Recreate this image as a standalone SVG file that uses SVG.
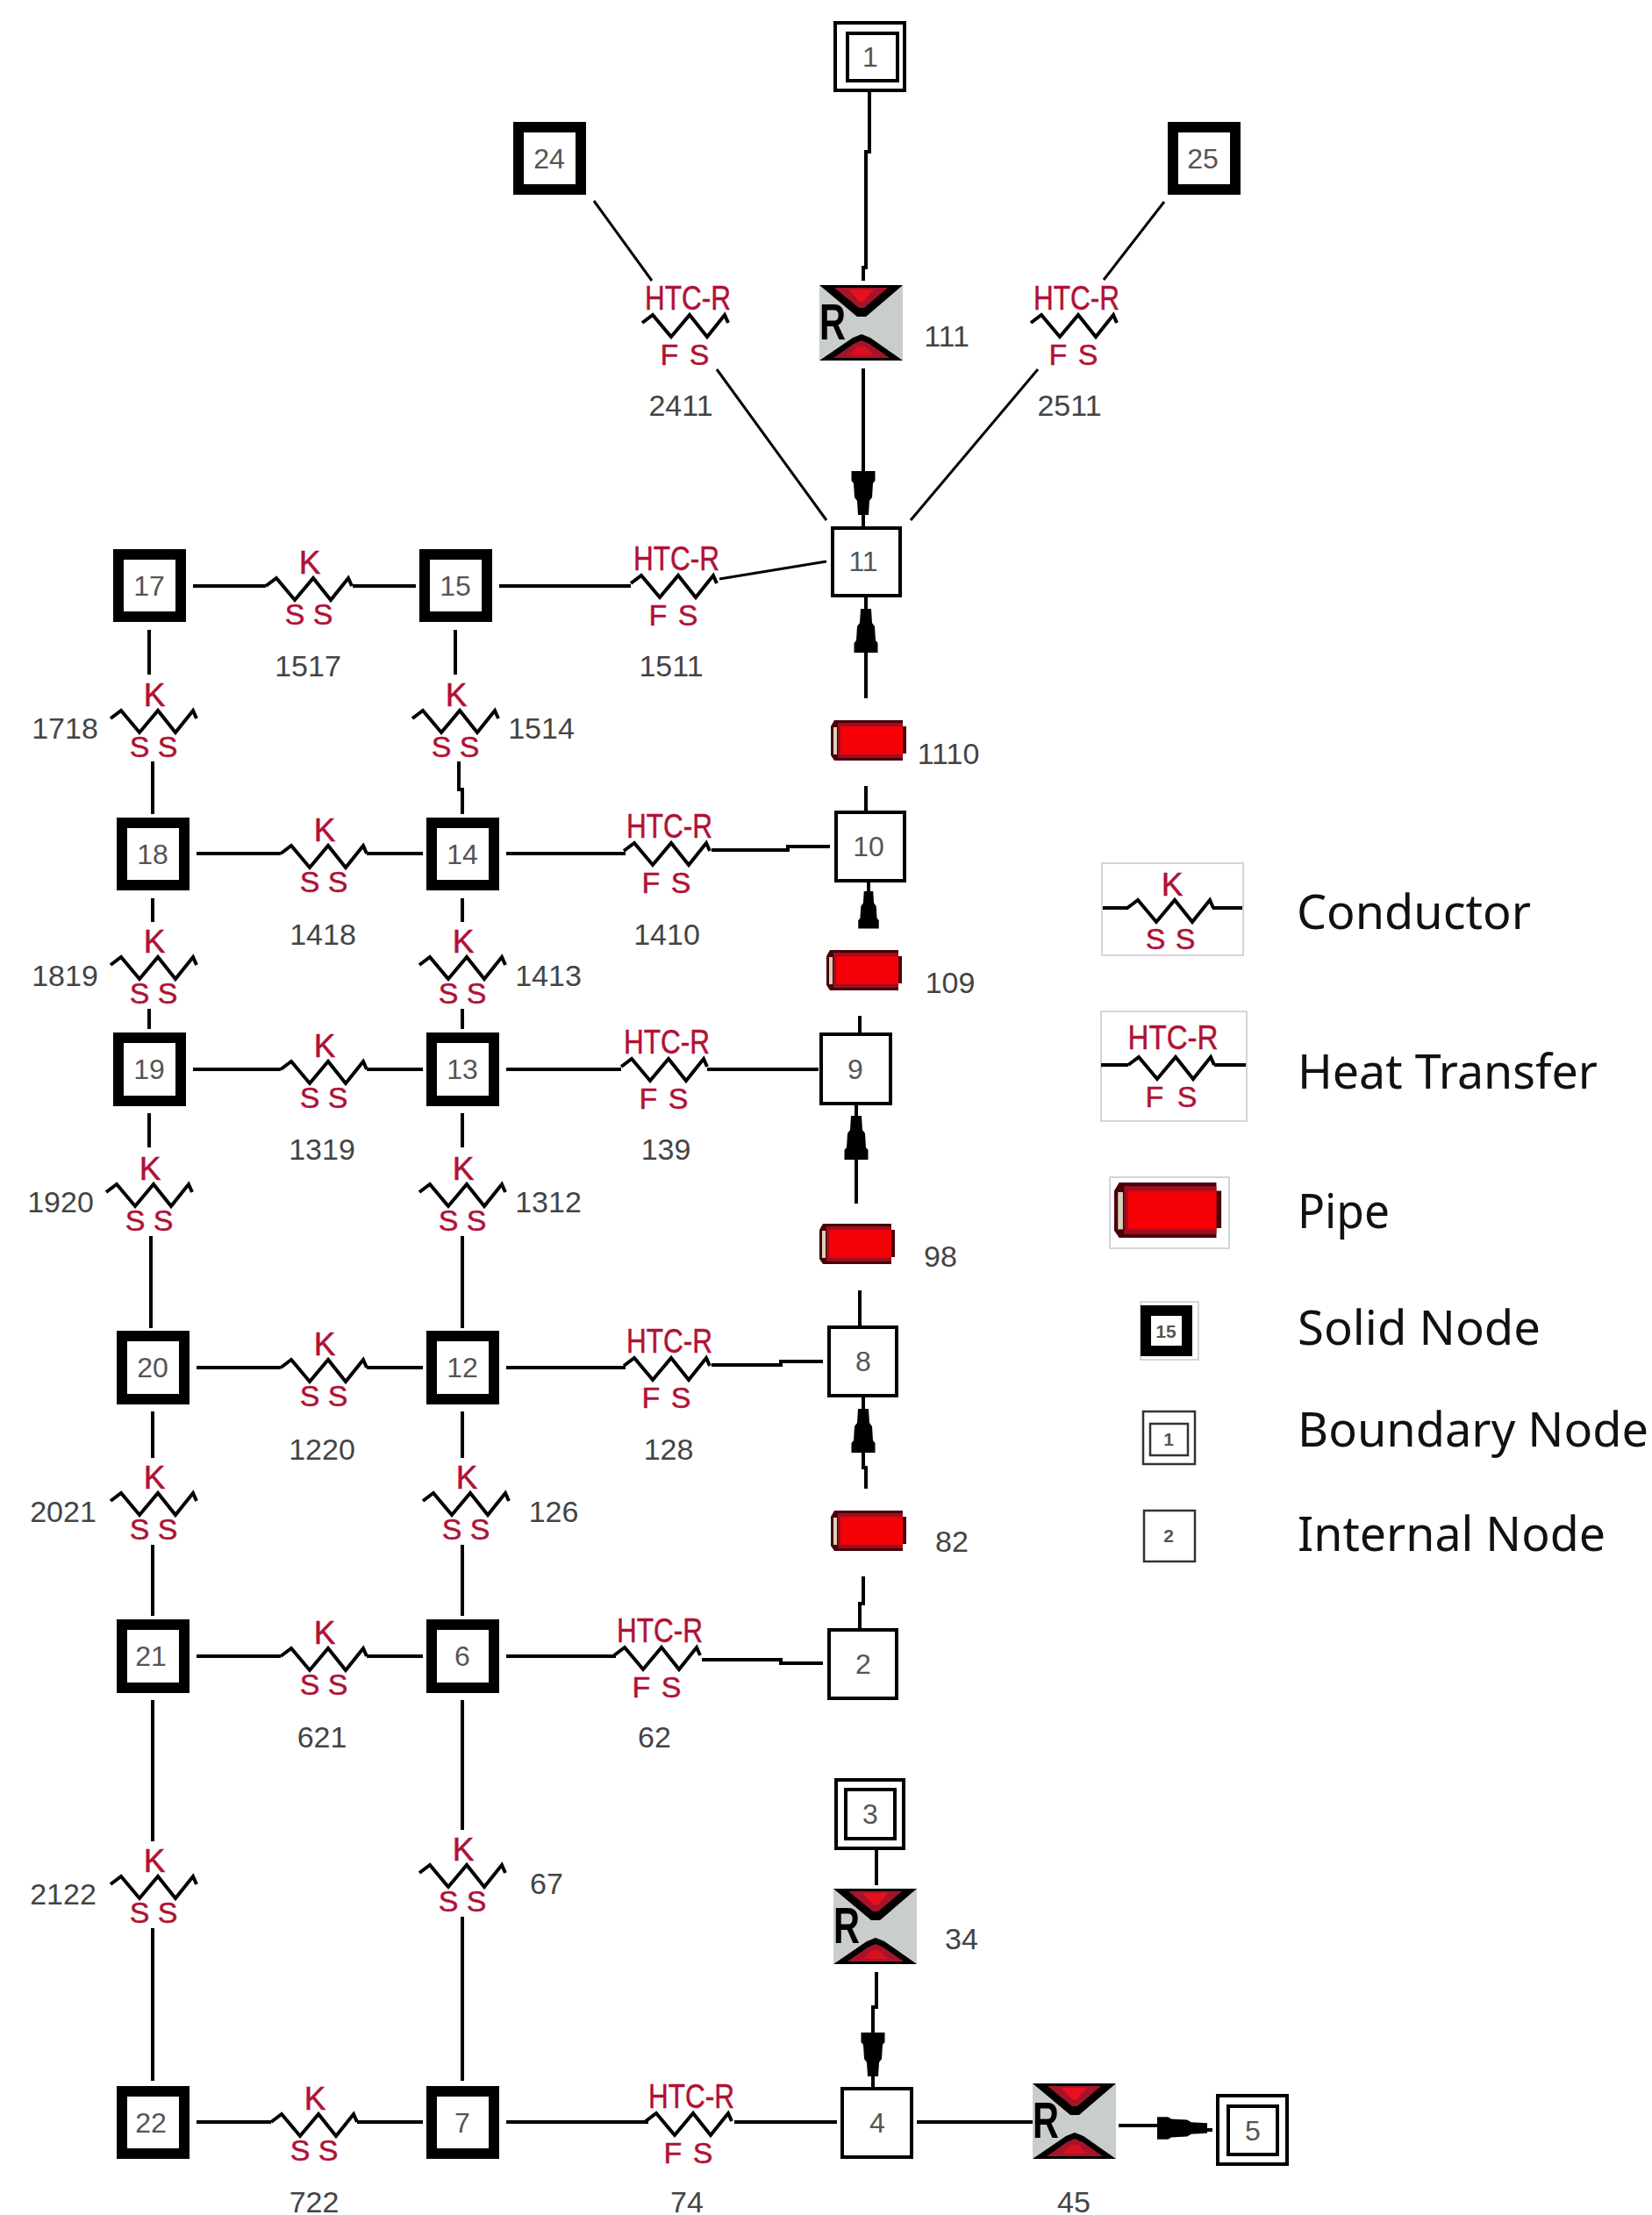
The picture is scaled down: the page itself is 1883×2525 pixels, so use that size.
<svg xmlns="http://www.w3.org/2000/svg" width="1883" height="2525" viewBox="0 0 1883 2525">
<style>
text{font-family:"Liberation Sans",Arial,sans-serif}
.bg{fill:#fff}
.n{text-anchor:middle;font-size:32px;fill:#555}
.lbl{text-anchor:middle;font-size:34px;fill:#444}
.k{text-anchor:middle;font-size:37px;fill:#b01235;stroke:#b01235;stroke-width:.5}
.s{text-anchor:middle;font-size:34px;fill:#b01235;stroke:#b01235;stroke-width:.5}
.h{text-anchor:middle;font-size:38px;fill:#b01235;stroke:#b01235;stroke-width:.5}
.zig{fill:none;stroke:#000;stroke-width:4}
.solid{fill:#fff;stroke:#000;stroke-width:12}
.box{fill:#fff;stroke:#000;stroke-width:4}
.conn{fill:none;stroke:#000;stroke-width:4}
.thin{fill:none;stroke:#000;stroke-width:3}
.lg{fill:#fff;stroke:#c8c8c8;stroke-width:1.5}
.lt{font-family:"Noto Sans","Open Sans",sans-serif;font-size:54px;fill:#111}
.ln{text-anchor:middle;font-size:21px;fill:#555;font-weight:bold}
</style>
<defs>
<polyline id="zig" class="zig" points="-49,0 -37,-9 -16,16 5,-9 25,16 45,-9 49,0"/>
<polygon id="arrow" points="-6,0 6,0 7,16 10,20 11,36 13.5,39 13.5,50 -13.5,50 -13.5,39 -11,36 -10,20 -7,16" fill="#000"/>
<g id="pipe">
<polygon points="4,0 82,0 82,7 86,7 86,38 82,38 82,46 4,46 0,40 0,7" fill="#4a0008"/>
<rect x="3" y="8" width="4" height="31" fill="#d8d2bc"/>
<rect x="8" y="3" width="74" height="40" fill="#9a1020"/>
<rect x="11" y="7" width="71" height="32" fill="#f60008"/>
</g>
<g id="rsym">
<rect width="95" height="86" fill="#c9cdcb"/>
<polygon points="0,0 95,0 53,36 43,36" fill="#000"/>
<polygon points="17,3 78,3 51,26 45,26" fill="#a5142a"/>
<polygon points="33,5 62,5 50,19 46,19" fill="#e8101c"/>
<polygon points="0,86 95,86 58,60 48,56 38,60" fill="#000"/>
<polygon points="16,83 80,83 57,67 48,63 39,67" fill="#a5142a"/>
<polygon points="34,80 62,80 52,70 44,70" fill="#d8101e"/>
<text x="0" y="62" font-size="58" font-weight="bold" fill="#000" textLength="30" lengthAdjust="spacingAndGlyphs">R</text>
</g>
</defs>
<rect class="bg" width="1883" height="2525"/>

<g id="connectors">
<path class="conn" d="M991,105V173H987V305H984V320M984,420V540M984,585V600"/>
<path class="thin" d="M677,229L743,320M817,421L942,593M1327,230L1258,319M1183,421L1038,593M820,660L942,640"/>
<path class="conn" d="M170,718V769M174,868V928M519,718V769M523,868V900H527V928M174,1024V1051M170,1150V1173M527,1024V1051M527,1150V1173M170,1269V1308M172,1409V1514M527,1269V1308M527,1409V1514M174,1609V1662M174,1761V1842M527,1609V1662M527,1761V1842M174,1938V2099M174,2198V2372M527,1938V2086M527,2185V2372"/>
<path class="conn" d="M220,668H303M402,668H474M569,668H719M224,973H320M418,973H482M577,973H713M811,969H898V965H946M220,1219H320M418,1219H482M577,1219H708M806,1219H933M224,1559H320M418,1559H482M577,1559H713M811,1556H890V1552H938M224,1888H320M418,1888H482M577,1888H702M800,1892H890V1896H938M224,2419H309M407,2419H482M577,2419H739M837,2419H954M1045,2419H1177"/>
<path class="conn" d="M987,679V700M987,740V796M987,896V925M990,1006V1020M980,1158V1177M976,1258V1276M976,1320V1372M980,1471V1511M984,1593V1610M984,1650V1673H987V1697M984,1797V1828H980V1856M999,2109V2149M999,2248V2288H995V2320M995,2362V2379M1275,2423H1325M1370,2428H1382"/>
<use href="#arrow" transform="translate(984,587) rotate(180)"/>
<use href="#arrow" transform="translate(987,694)"/>
<use href="#arrow" transform="translate(990,1016) scale(.87,.85)"/>
<use href="#arrow" transform="translate(976,1272)"/>
<use href="#arrow" transform="translate(984,1606)"/>
<use href="#arrow" transform="translate(995,2367) rotate(180)"/>
<use href="#arrow" transform="translate(1376,2426) rotate(90) scale(.95,1.14)"/>
</g>

<g id="n1"><rect class="box" x="952" y="26" width="79" height="77"/><rect class="box" x="966" y="38" width="57" height="54"/><text class="n" x="992" y="76">1</text></g>
<g id="n3"><rect class="box" x="953" y="2029" width="77" height="78"/><rect class="box" x="964" y="2040" width="56" height="56"/><text class="n" x="992" y="2079">3</text></g>
<g id="n5"><rect class="box" x="1388" y="2389" width="79" height="78"/><rect class="box" x="1400" y="2401" width="56" height="55"/><text class="n" x="1428" y="2440">5</text></g>

<g id="n24"><rect class="solid" x="591" y="145" width="71" height="71"/><text class="n" x="626" y="192">24</text></g>
<g id="n25"><rect class="solid" x="1337" y="145" width="71" height="71"/><text class="n" x="1371" y="192">25</text></g>
<g id="n17"><rect class="solid" x="135" y="632" width="71" height="71"/><text class="n" x="170" y="679">17</text></g>
<g id="n15"><rect class="solid" x="484" y="632" width="71" height="71"/><text class="n" x="519" y="679">15</text></g>
<g id="n18"><rect class="solid" x="139" y="938" width="71" height="71"/><text class="n" x="174" y="985">18</text></g>
<g id="n14"><rect class="solid" x="492" y="938" width="71" height="71"/><text class="n" x="527" y="985">14</text></g>
<g id="n19"><rect class="solid" x="135" y="1183" width="71" height="72"/><text class="n" x="170" y="1230">19</text></g>
<g id="n13"><rect class="solid" x="492" y="1183" width="71" height="72"/><text class="n" x="527" y="1230">13</text></g>
<g id="n20"><rect class="solid" x="139" y="1523" width="71" height="72"/><text class="n" x="174" y="1570">20</text></g>
<g id="n12"><rect class="solid" x="492" y="1523" width="71" height="72"/><text class="n" x="527" y="1570">12</text></g>
<g id="n21"><rect class="solid" x="139" y="1852" width="71" height="72"/><text class="n" x="172" y="1899">21</text></g>
<g id="n6"><rect class="solid" x="492" y="1852" width="71" height="72"/><text class="n" x="527" y="1899">6</text></g>
<g id="n22"><rect class="solid" x="139" y="2384" width="71" height="71"/><text class="n" x="172" y="2431">22</text></g>
<g id="n7"><rect class="solid" x="492" y="2384" width="71" height="71"/><text class="n" x="527" y="2431">7</text></g>

<g id="n11"><rect class="box" x="949" y="602" width="77" height="77"/><text class="n" x="984" y="651">11</text></g>
<g id="n10"><rect class="box" x="953" y="926" width="78" height="78"/><text class="n" x="990" y="976">10</text></g>
<g id="n9"><rect class="box" x="936" y="1179" width="79" height="79"/><text class="n" x="975" y="1230">9</text></g>
<g id="n8"><rect class="box" x="945" y="1513" width="77" height="78"/><text class="n" x="984" y="1563">8</text></g>
<g id="n2"><rect class="box" x="945" y="1858" width="77" height="78"/><text class="n" x="984" y="1908">2</text></g>
<g id="n4"><rect class="box" x="960" y="2381" width="79" height="78"/><text class="n" x="1000" y="2431">4</text></g>

<g id="r111"><use href="#rsym" x="934" y="325"/><text class="lbl" x="1079" y="395">111</text></g>
<g id="r34"><use href="#rsym" x="950" y="2153"/><text class="lbl" x="1096" y="2222">34</text></g>
<g id="r45"><use href="#rsym" x="1177" y="2375"/><text class="lbl" x="1224" y="2522">45</text></g>

<g id="p1110"><use href="#pipe" x="947" y="821"/><text class="lbl" x="1081" y="871">1110</text></g>
<g id="p109"><use href="#pipe" x="942" y="1083"/><text class="lbl" x="1083" y="1132">109</text></g>
<g id="p98"><use href="#pipe" x="934" y="1395"/><text class="lbl" x="1072" y="1444">98</text></g>
<g id="p82"><use href="#pipe" x="947" y="1722"/><text class="lbl" x="1085" y="1769">82</text></g>

<g id="c1517"><g transform="translate(352,668)"><use href="#zig"/><text class="k" x="1" y="-14">K</text><text class="s" x="-16" y="44">S</text><text class="s" x="16" y="44">S</text></g><text class="lbl" x="351" y="771">1517</text></g>
<g id="c1718"><g transform="translate(175,819)"><use href="#zig"/><text class="k" x="1" y="-14">K</text><text class="s" x="-16" y="44">S</text><text class="s" x="16" y="44">S</text></g><text class="lbl" x="74" y="842">1718</text></g>
<g id="c1514"><g transform="translate(519,819)"><use href="#zig"/><text class="k" x="1" y="-14">K</text><text class="s" x="-16" y="44">S</text><text class="s" x="16" y="44">S</text></g><text class="lbl" x="617" y="842">1514</text></g>
<g id="c1418"><g transform="translate(369,973)"><use href="#zig"/><text class="k" x="1" y="-14">K</text><text class="s" x="-16" y="44">S</text><text class="s" x="16" y="44">S</text></g><text class="lbl" x="368" y="1077">1418</text></g>
<g id="c1819"><g transform="translate(175,1100)"><use href="#zig"/><text class="k" x="1" y="-14">K</text><text class="s" x="-16" y="44">S</text><text class="s" x="16" y="44">S</text></g><text class="lbl" x="74" y="1124">1819</text></g>
<g id="c1413"><g transform="translate(527,1100)"><use href="#zig"/><text class="k" x="1" y="-14">K</text><text class="s" x="-16" y="44">S</text><text class="s" x="16" y="44">S</text></g><text class="lbl" x="625" y="1124">1413</text></g>
<g id="c1319"><g transform="translate(369,1219)"><use href="#zig"/><text class="k" x="1" y="-14">K</text><text class="s" x="-16" y="44">S</text><text class="s" x="16" y="44">S</text></g><text class="lbl" x="367" y="1322">1319</text></g>
<g id="c1920"><g transform="translate(170,1359)"><use href="#zig"/><text class="k" x="1" y="-14">K</text><text class="s" x="-16" y="44">S</text><text class="s" x="16" y="44">S</text></g><text class="lbl" x="69" y="1382">1920</text></g>
<g id="c1312"><g transform="translate(527,1359)"><use href="#zig"/><text class="k" x="1" y="-14">K</text><text class="s" x="-16" y="44">S</text><text class="s" x="16" y="44">S</text></g><text class="lbl" x="625" y="1382">1312</text></g>
<g id="c1220"><g transform="translate(369,1559)"><use href="#zig"/><text class="k" x="1" y="-14">K</text><text class="s" x="-16" y="44">S</text><text class="s" x="16" y="44">S</text></g><text class="lbl" x="367" y="1664">1220</text></g>
<g id="c2021"><g transform="translate(175,1711)"><use href="#zig"/><text class="k" x="1" y="-14">K</text><text class="s" x="-16" y="44">S</text><text class="s" x="16" y="44">S</text></g><text class="lbl" x="72" y="1735">2021</text></g>
<g id="c126"><g transform="translate(531,1711)"><use href="#zig"/><text class="k" x="1" y="-14">K</text><text class="s" x="-16" y="44">S</text><text class="s" x="16" y="44">S</text></g><text class="lbl" x="631" y="1735">126</text></g>
<g id="c621"><g transform="translate(369,1888)"><use href="#zig"/><text class="k" x="1" y="-14">K</text><text class="s" x="-16" y="44">S</text><text class="s" x="16" y="44">S</text></g><text class="lbl" x="367" y="1992">621</text></g>
<g id="c2122"><g transform="translate(175,2148)"><use href="#zig"/><text class="k" x="1" y="-14">K</text><text class="s" x="-16" y="44">S</text><text class="s" x="16" y="44">S</text></g><text class="lbl" x="72" y="2171">2122</text></g>
<g id="c67"><g transform="translate(527,2135)"><use href="#zig"/><text class="k" x="1" y="-14">K</text><text class="s" x="-16" y="44">S</text><text class="s" x="16" y="44">S</text></g><text class="lbl" x="623" y="2159">67</text></g>
<g id="c722"><g transform="translate(358,2419)"><use href="#zig"/><text class="k" x="1" y="-14">K</text><text class="s" x="-16" y="44">S</text><text class="s" x="16" y="44">S</text></g><text class="lbl" x="358" y="2522">722</text></g>

<g id="h2411"><g transform="translate(781,368)"><use href="#zig"/><text class="h" x="3" y="-15" textLength="98" lengthAdjust="spacingAndGlyphs">HTC-R</text><text class="s" x="-18" y="48">F</text><text class="s" x="16" y="48">S</text></g><text class="lbl" x="776" y="474">2411</text></g>
<g id="h2511"><g transform="translate(1224,368)"><use href="#zig"/><text class="h" x="3" y="-15" textLength="98" lengthAdjust="spacingAndGlyphs">HTC-R</text><text class="s" x="-18" y="48">F</text><text class="s" x="16" y="48">S</text></g><text class="lbl" x="1219" y="474">2511</text></g>
<g id="h1511"><g transform="translate(768,665)"><use href="#zig"/><text class="h" x="3" y="-15" textLength="98" lengthAdjust="spacingAndGlyphs">HTC-R</text><text class="s" x="-18" y="48">F</text><text class="s" x="16" y="48">S</text></g><text class="lbl" x="765" y="771">1511</text></g>
<g id="h1410"><g transform="translate(760,970)"><use href="#zig"/><text class="h" x="3" y="-15" textLength="98" lengthAdjust="spacingAndGlyphs">HTC-R</text><text class="s" x="-18" y="48">F</text><text class="s" x="16" y="48">S</text></g><text class="lbl" x="760" y="1077">1410</text></g>
<g id="h139"><g transform="translate(757,1216)"><use href="#zig"/><text class="h" x="3" y="-15" textLength="98" lengthAdjust="spacingAndGlyphs">HTC-R</text><text class="s" x="-18" y="48">F</text><text class="s" x="16" y="48">S</text></g><text class="lbl" x="759" y="1322">139</text></g>
<g id="h128"><g transform="translate(760,1557)"><use href="#zig"/><text class="h" x="3" y="-15" textLength="98" lengthAdjust="spacingAndGlyphs">HTC-R</text><text class="s" x="-18" y="48">F</text><text class="s" x="16" y="48">S</text></g><text class="lbl" x="762" y="1664">128</text></g>
<g id="h62"><g transform="translate(749,1887)"><use href="#zig"/><text class="h" x="3" y="-15" textLength="98" lengthAdjust="spacingAndGlyphs">HTC-R</text><text class="s" x="-18" y="48">F</text><text class="s" x="16" y="48">S</text></g><text class="lbl" x="746" y="1992">62</text></g>
<g id="h74"><g transform="translate(785,2418)"><use href="#zig"/><text class="h" x="3" y="-15" textLength="98" lengthAdjust="spacingAndGlyphs">HTC-R</text><text class="s" x="-18" y="48">F</text><text class="s" x="16" y="48">S</text></g><text class="lbl" x="783" y="2522">74</text></g>

<g id="legend-conductor"><rect class="lg" x="1256" y="984" width="161" height="105"/><path class="conn" d="M1257,1035H1286M1382,1035H1416"/><g transform="translate(1334,1035)"><use href="#zig"/><text class="k" x="2" y="-14">K</text><text class="s" x="-17" y="47">S</text><text class="s" x="17" y="47">S</text></g><text class="lt" x="1478" y="1059" textLength="267" lengthAdjust="spacingAndGlyphs">Conductor</text></g>
<g id="legend-heat"><rect class="lg" x="1255" y="1153" width="166" height="125"/><path class="conn" d="M1255,1214H1286M1384,1214H1420"/><g transform="translate(1335,1214)"><use href="#zig"/><text class="h" x="2" y="-18" textLength="103" lengthAdjust="spacingAndGlyphs">HTC-R</text><text class="s" x="-19" y="48">F</text><text class="s" x="18" y="48">S</text></g><text class="lt" x="1479" y="1241" textLength="342" lengthAdjust="spacingAndGlyphs">Heat Transfer</text></g>
<g id="legend-pipe"><rect class="lg" x="1265" y="1342" width="136" height="81"/><use href="#pipe" transform="translate(1270,1348) scale(1.42,1.37)"/><text class="lt" x="1479" y="1400" textLength="105" lengthAdjust="spacingAndGlyphs">Pipe</text></g>
<g id="legend-solid"><rect class="lg" x="1300" y="1484" width="66" height="66"/><rect x="1306" y="1494" width="47" height="46" fill="#fff" stroke="#000" stroke-width="12"/><text class="ln" x="1329" y="1525">15</text><text class="lt" x="1479" y="1533" textLength="277" lengthAdjust="spacingAndGlyphs">Solid Node</text></g>
<g id="legend-boundary"><rect x="1303" y="1609" width="59" height="60" fill="#fff" stroke="#333" stroke-width="2.5"/><rect x="1311" y="1623" width="43" height="36" fill="#fff" stroke="#333" stroke-width="2.5"/><text class="ln" x="1332" y="1648">1</text><text class="lt" x="1479" y="1649" textLength="400" lengthAdjust="spacingAndGlyphs">Boundary Node</text></g>
<g id="legend-internal"><rect x="1304" y="1722" width="58" height="58" fill="#fff" stroke="#333" stroke-width="2.5"/><text class="ln" x="1332" y="1758">2</text><text class="lt" x="1479" y="1768" textLength="351" lengthAdjust="spacingAndGlyphs">Internal Node</text></g>
</svg>
